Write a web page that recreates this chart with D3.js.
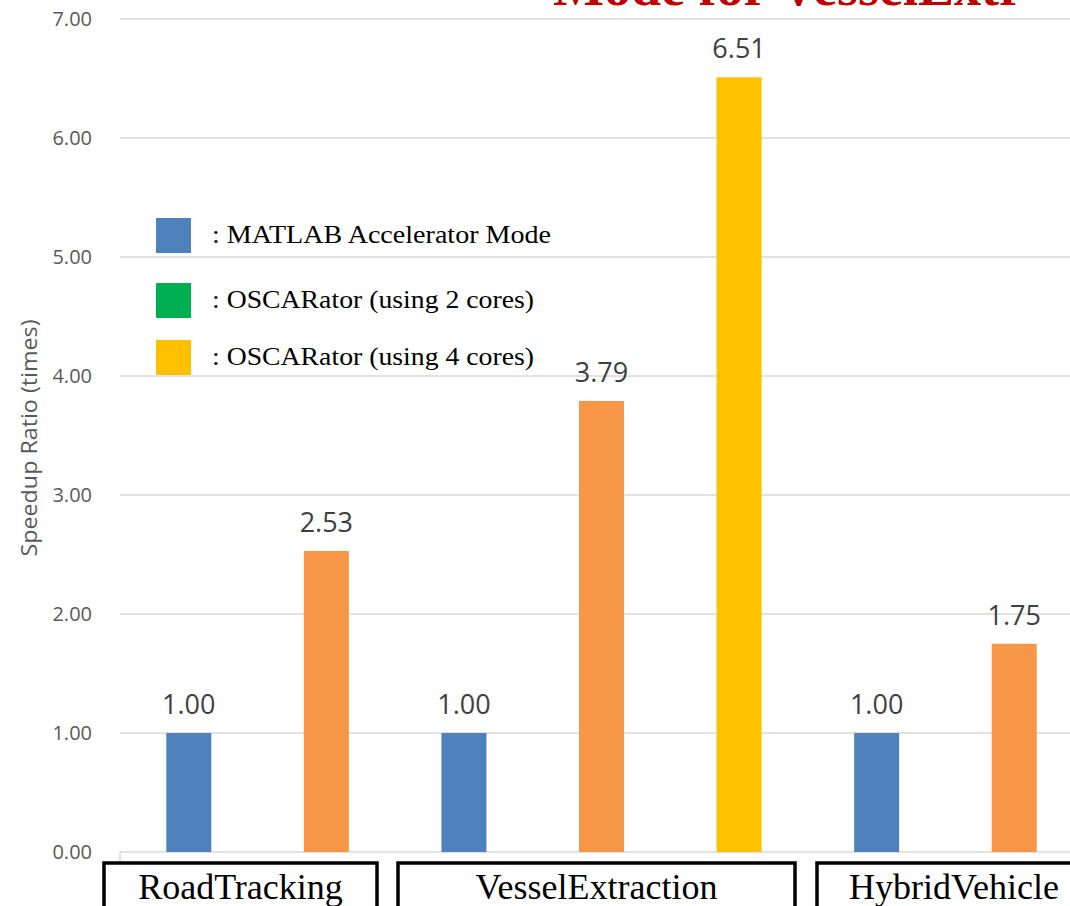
<!DOCTYPE html>
<html>
<head>
<meta charset="utf-8">
<script src="https://cdn.jsdelivr.net/npm/d3@7"></script>
<style>
  html, body { margin: 0; padding: 0; background: #fff; }
  svg { display: block; }
</style>
</head>
<body>
<svg id="chart" width="1070" height="906"></svg>
<script>
// ---- data ----
const groups = ["RoadTracking", "VesselExtraction", "HybridVehicle"];
const barGroup = ["RoadTracking", "RoadTracking", "VesselExtraction", "VesselExtraction", "VesselExtraction", "HybridVehicle", "HybridVehicle"];
const barSeries = ["matlab", "oscar", "matlab", "oscar", "oscar4", "matlab", "oscar"];
const barValues = [1.00, 2.53, 1.00, 3.79, 6.51, 1.00, 1.75];
const yTicks = [0, 1, 2, 3, 4, 5, 6, 7];
const legendKeys = ["matlab", "oscar2", "oscar4"];
const legendLabels = [": MATLAB Accelerator Mode", ": OSCARator (using 2 cores)", ": OSCARator (using 4 cores)"];
const yTitle = "Speedup Ratio (times)";
const titleText = "Mode for VesselExtr";

// ---- styles / layout ----
const colors = { matlab: "#4F81BD", oscar: "#F79646", oscar2: "#00B050", oscar4: "#FFC000" };
const groupBoxes = { RoadTracking: [104, 377], VesselExtraction: [398, 795], HybridVehicle: [817, 1090] };
const legendWidths = [339, 322, 322];

const svg = d3.select("#chart");
const slots = barValues.map((d, i) => i);

const x = d3.scaleBand().domain(slots).range([120, 1083]).paddingInner(0.673).paddingOuter(0.3365);
const y = d3.scaleLinear().domain([0, 7]).range([852, 19]);

// gridlines
svg.append("g").selectAll("line").data(yTicks).join("line")
  .attr("x1", 120).attr("x2", 1070)
  .attr("y1", d => y(d)).attr("y2", d => y(d))
  .attr("stroke", "#d9d9d9").attr("stroke-width", 1.5);

// small axis stub at left of category axis
svg.append("line").attr("x1", 120).attr("x2", 120).attr("y1", y(0)).attr("y2", y(0) + 10)
  .attr("stroke", "#d9d9d9").attr("stroke-width", 1.5);

// y tick labels
svg.append("g").selectAll("text").data(yTicks).join("text")
  .attr("x", 92).attr("y", d => y(d))
  .attr("dy", "0.35em")
  .attr("text-anchor", "end")
  .attr("font-family", "'Open Sans', sans-serif")
  .attr("font-size", 20)
  .attr("fill", "#595959")
  .text(d => d3.format(".2f")(d));

// y axis title
svg.append("text")
  .attr("transform", "translate(37,438) rotate(-90)")
  .attr("text-anchor", "middle")
  .attr("font-family", "'Open Sans', sans-serif")
  .attr("font-size", 21)
  .attr("textLength", 237)
  .attr("lengthAdjust", "spacingAndGlyphs")
  .attr("fill", "#595959")
  .text(yTitle);

// bars
svg.append("g").selectAll("rect").data(slots).join("rect")
  .attr("x", i => x(i))
  .attr("width", x.bandwidth())
  .attr("y", i => y(barValues[i]))
  .attr("height", i => y(0) - y(barValues[i]))
  .attr("fill", i => colors[barSeries[i]]);

// value labels
svg.append("g").selectAll("text").data(slots).join("text")
  .attr("x", i => x(i) + x.bandwidth() / 2)
  .attr("y", i => y(barValues[i]) - 19)
  .attr("text-anchor", "middle")
  .attr("font-family", "'Open Sans', sans-serif")
  .attr("font-size", 27)
  .attr("fill", "#404040")
  .text(i => d3.format(".2f")(barValues[i]));

// legend
const lg = svg.append("g");
const legendY = [218, 283, 340];
lg.selectAll("rect").data(legendKeys).join("rect")
  .attr("x", 156).attr("y", (d, i) => legendY[i])
  .attr("width", 35).attr("height", 35)
  .attr("fill", d => colors[d]);
lg.selectAll("text").data(legendLabels).join("text")
  .attr("x", 212).attr("y", (d, i) => legendY[i] + 25)
  .attr("font-family", "'Liberation Serif', 'Times New Roman', serif")
  .attr("font-size", 26)
  .attr("textLength", (d, i) => legendWidths[i])
  .attr("lengthAdjust", "spacingAndGlyphs")
  .attr("fill", "#000")
  .text(d => d);

// category boxes
const cg = svg.append("g");
cg.selectAll("rect").data(groups).join("rect")
  .attr("x", g => groupBoxes[g][0])
  .attr("y", 863)
  .attr("width", g => groupBoxes[g][1] - groupBoxes[g][0])
  .attr("height", 60)
  .attr("fill", "#fff")
  .attr("stroke", "#000")
  .attr("stroke-width", 3.5);
cg.selectAll("text").data(groups).join("text")
  .attr("x", g => g === "HybridVehicle" ? 954 : (groupBoxes[g][0] + groupBoxes[g][1]) / 2)
  .attr("y", 899)
  .attr("text-anchor", "middle")
  .attr("font-family", "'Liberation Serif', 'Times New Roman', serif")
  .attr("font-size", 36)
  .attr("fill", "#000")
  .text(g => g);

// clipped title (only its bottom is visible)
svg.append("text")
  .attr("x", 553).attr("y", 5)
  .attr("font-family", "'Liberation Serif', 'Times New Roman', serif")
  .attr("font-weight", "bold")
  .attr("font-size", 54)
  .attr("fill", "#C00000")
  .text(titleText);
</script>
</body>
</html>
